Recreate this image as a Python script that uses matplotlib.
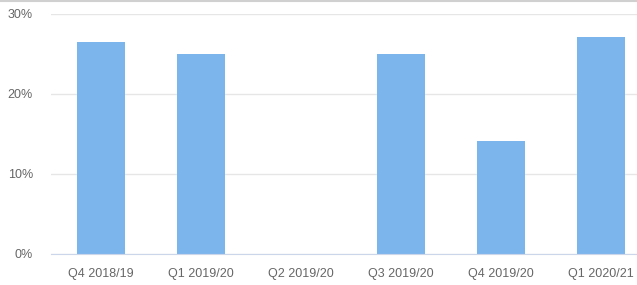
import matplotlib.pyplot as plt
from matplotlib.lines import Line2D
from matplotlib.ticker import FuncFormatter

quarters = ['Q4 2018/19', 'Q1 2019/20', 'Q2 2019/20', 'Q3 2019/20', 'Q4 2019/20', 'Q1 2020/21']
share = [26.5, 25.0, 0.0, 25.0, 14.1, 27.1]

plt.rcParams['font.family'] = ['Liberation Sans', 'DejaVu Sans']

fig = plt.figure(figsize=(6.37, 2.85), dpi=100)
ax = fig.add_axes([51 / 637, 1 - 254 / 285, 1 - 51 / 637, (254 - 14) / 285])

ax.bar(range(len(quarters)), share, width=0.48, color='#7cb5ec', zorder=2)

ax.set_xlim(-0.5, 5.36)
ax.set_ylim(0, 30)
ax.set_yticks([0, 10, 20, 30])
ax.yaxis.set_major_formatter(FuncFormatter(lambda v, p: f'{v:.0f}%'))
ax.set_xticks(range(len(quarters)))
ax.set_xticklabels(quarters)

ax.grid(axis='y', color='#e6e6e6', linewidth=1, zorder=0)
for side in ['top', 'right', 'left']:
    ax.spines[side].set_visible(False)
ax.spines['bottom'].set_color('#ccd6eb')
ax.tick_params(axis='both', length=0, labelsize=9, colors='#666666')
ax.tick_params(axis='y', pad=13)
ax.tick_params(axis='x', pad=10)

# thin border line at the top of the image
fig.add_artist(Line2D([0, 1], [0.997, 0.997], color='#d0d0d0', linewidth=1.5,
                      transform=fig.transFigure))

fig.savefig('out.png', dpi=100)
